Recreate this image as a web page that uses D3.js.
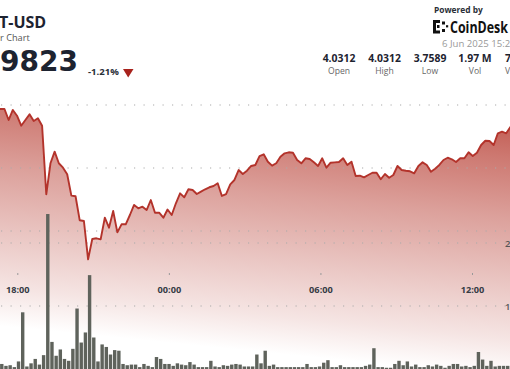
<!DOCTYPE html>
<html lang="en">
<head>
<meta charset="UTF-8">
<title>T-USD 24 Hour Chart</title>
<script src="https://cdn.jsdelivr.net/npm/d3@7"></script>
<style>
  html, body { margin: 0; padding: 0; background: #fff; overflow: hidden; }
  svg { display: block; font-family: "Open Sans", "Noto Sans", sans-serif; }
</style>
</head>
<body>
<script>
// --- data --------------------------------------------------------------
// one point every 24h/145 (~9.9 min), first point at 17:09:40
const startTime = new Date(2025, 5, 5, 17, 9, 40);
const stepMs = 86400000 / 145;

const prices = [
  3.9952, 3.9937, 3.9937, 3.9762, 3.9921, 3.9830, 3.9671, 3.9762, 3.9852, 3.9746,
  3.9789, 3.9671, 3.8583, 3.9075, 3.9259, 3.9075, 3.9005, 3.8900, 3.8562, 3.8551,
  3.8170, 3.8159, 3.7550, 3.7873, 3.7884, 3.7868, 3.8211, 3.8052, 3.8317, 3.7979,
  3.8106, 3.8106, 3.8254, 3.8413, 3.8360, 3.8386, 3.8333, 3.8492, 3.8290, 3.8290,
  3.8211, 3.8341, 3.8254, 3.8440, 3.8598, 3.8535, 3.8662, 3.8651, 3.8587, 3.8624,
  3.8662, 3.8694, 3.8714, 3.8757, 3.8556, 3.8587, 3.8741, 3.8810, 3.8968, 3.8905,
  3.8957, 3.9032, 3.9048, 3.9190, 3.9217, 3.9100, 3.9037, 3.9075, 3.9179, 3.9233,
  3.9249, 3.9243, 3.9127, 3.9075, 3.9154, 3.9143, 3.9090, 3.9032, 3.9154, 3.9005,
  3.9084, 3.9090, 3.9095, 3.9154, 3.9048, 3.9100, 3.8873, 3.8878, 3.8852, 3.8889,
  3.8925, 3.8925, 3.8821, 3.8905, 3.8846, 3.8889, 3.9032, 3.8968, 3.8957, 3.8948,
  3.8916, 3.9032, 3.9090, 3.9048, 3.8941, 3.8989, 3.9048, 3.9127, 3.9163, 3.9138,
  3.9095, 3.9154, 3.9154, 3.9249, 3.9190, 3.9243, 3.9365, 3.9433, 3.9429, 3.9365,
  3.9551, 3.9576, 3.9551, 3.9651, 3.9746
];

// volume per point in thousands, starts one point after the prices
const volumes = [
  8, 5, 6, 3, 12, 90, 4, 9, 16, 7,
  22, 246, 43, 21, 31, 16, 13, 32, 96, 42,
  58, 149, 50, 12, 39, 35, 23, 30, 29, 8,
  6, 7, 7, 3, 8, 5, 3, 19, 16, 8,
  8, 5, 9, 7, 6, 11, 7, 3, 3, 3,
  13, 4, 3, 6, 5, 7, 8, 7, 4, 4,
  4, 23, 9, 29, 5, 7, 3, 3, 3, 3,
  3, 3, 3, 8, 3, 3, 4, 10, 14, 3,
  3, 6, 3, 3, 3, 3, 3, 5, 7, 33,
  3, 3, 2, 2, 8, 13, 6, 12, 4, 7,
  3, 3, 6, 4, 7, 5, 2, 5, 8, 8,
  4, 5, 3, 5, 27, 15, 5, 13, 4, 5,
  5, 5
];

const timeTicks = [
  new Date(2025, 5, 5, 18), new Date(2025, 5, 6, 0),
  new Date(2025, 5, 6, 6), new Date(2025, 5, 6, 12)
];
const priceGrid = [4.0, 3.9, 3.8];
const volumeTicks = [100, 200];

const statValues = ["4.0312", "4.0312", "3.7589", "1.97 M", "7"];
const statLabels = ["Open", "High", "Low", "Vol", "V"];

// --- chart ---------------------------------------------------------------
const width = 510, height = 369;

const svg = d3.select("body").append("svg")
  .attr("width", width)
  .attr("height", height);

const x = d3.scaleTime()
  .domain([timeTicks[0], timeTicks[3]])
  .range([17.3, 472]);

const yPrice = d3.scaleLinear().domain([3.8, 4.0]).range([231, 105]);
const yVol = d3.scaleLinear().domain([0, 200]).range([369, 243]);

const priceData = prices.map((p, i) => ({ t: new Date(+startTime + i * stepMs), p }));
const volData = volumes.map((v, i) => ({ t: new Date(+startTime + (i + 1) * stepMs), v }));

// gradient under the line
const grad = svg.append("defs").append("linearGradient")
  .attr("id", "fade")
  .attr("gradientUnits", "userSpaceOnUse")
  .attr("x1", 265).attr("y1", 100)
  .attr("x2", 240).attr("y2", 350);
[[0, 0.92], [0.13, 0.77], [0.37, 0.54], [0.65, 0.31], [0.85, 0.15], [1, 0]]
  .forEach(([o, a]) => grad.append("stop")
    .attr("offset", o)
    .attr("stop-color", "rgb(190,80,70)")
    .attr("stop-opacity", a));

const area = d3.area()
  .x(d => x(d.t))
  .y0(height)
  .y1(d => yPrice(d.p));

svg.append("path")
  .datum(priceData)
  .attr("d", area)
  .attr("fill", "url(#fade)");

// dotted grid lines
const gridY = priceGrid.map(yPrice).concat(volumeTicks.map(yVol));
svg.append("g").selectAll("line")
  .data(gridY)
  .join("line")
  .attr("x1", 1).attr("x2", width)
  .attr("y1", d => d).attr("y2", d => d)
  .attr("stroke", "#aaa")
  .attr("stroke-width", 1.1)
  .attr("stroke-dasharray", "1.2,8.3");

// volume bars
svg.append("g").selectAll("rect")
  .data(volData)
  .join("rect")
  .attr("x", d => x(d.t) - 0.2)
  .attr("width", 3.4)
  .attr("y", d => yVol(d.v))
  .attr("height", d => yVol(0) - yVol(d.v))
  .attr("fill", "#5f635c");

// price line
const line = d3.line()
  .x(d => x(d.t))
  .y(d => yPrice(d.p));

svg.append("path")
  .datum(priceData)
  .attr("d", line)
  .attr("fill", "none")
  .attr("stroke", "#b3332b")
  .attr("stroke-width", 1.9)
  .attr("stroke-linejoin", "round");

// time axis
const xAxis = svg.append("g")
  .attr("transform", "translate(0,273)")
  .call(d3.axisBottom(x)
    .tickValues(timeTicks)
    .tickSize(2)
    .tickPadding(11)
    .tickFormat(d3.timeFormat("%H:%M")));
xAxis.select(".domain").remove();
xAxis.selectAll("line").attr("stroke", "#999");
xAxis.selectAll("text")
  .attr("fill", "#363b45")
  .style("font-family", "'Open Sans', sans-serif")
  .style("font-size", "9.2px")
  .style("font-weight", "700");

// volume axis (right edge, clipped like the original)
const vAxis = svg.append("g")
  .attr("transform", "translate(504,0)")
  .call(d3.axisRight(yVol)
    .tickValues(volumeTicks)
    .tickSize(0)
    .tickPadding(1)
    .tickFormat(d => d + "K"));
vAxis.select(".domain").remove();
vAxis.selectAll("text")
  .attr("fill", "#555")
  .style("font-family", "'Open Sans', sans-serif")
  .style("font-size", "9.5px")
  .style("font-weight", "600");

// --- header ---------------------------------------------------------------
svg.append("text")
  .attr("x", -1).attr("y", 28)
  .attr("fill", "#1d2330")
  .style("font-size", "16px").style("font-weight", "700")
  .text("T-USD");

svg.append("text")
  .attr("x", 0).attr("y", 41)
  .attr("fill", "#555")
  .style("font-size", "9.2px")
  .text("r Chart");

svg.append("text")
  .attr("x", 0).attr("y", 70.5)
  .attr("fill", "#1d2330")
  .style("font-family", "'DejaVu Sans', sans-serif")
  .style("font-size", "28px").style("font-weight", "700")
  .text("9823");

svg.append("text")
  .attr("x", 88).attr("y", 75)
  .attr("fill", "#2a2f38")
  .style("font-size", "9.6px").style("font-weight", "700")
  .text("-1.21%");

svg.append("path")
  .attr("d", d3.line()([[123, 69], [133.5, 69], [128.2, 77.5]]) + "Z")
  .attr("fill", "#a8221c");

svg.append("text")
  .attr("x", 434).attr("y", 12.8)
  .attr("fill", "#2a2f38")
  .style("font-size", "8.4px").style("font-weight", "700")
  .text("Powered by");

// CoinDesk mark
const logo = svg.append("g").attr("fill", "#111");
[[433, 20, 3, 13.5], [436, 20, 4, 3], [436, 30.5, 4, 3],
 [437, 25, 2.5, 3], [442, 21.5, 3, 3], [442, 29, 3, 3], [446, 25.2, 2.2, 2.2]]
  .forEach(([rx, ry, rw, rh]) => logo.append("rect")
    .attr("x", rx).attr("y", ry).attr("width", rw).attr("height", rh));

svg.append("text")
  .attr("x", 450).attr("y", 32.8)
  .attr("fill", "#111")
  .attr("textLength", 58).attr("lengthAdjust", "spacingAndGlyphs")
  .style("font-size", "16.5px").style("font-weight", "700")
  .text("CoinDesk");

svg.append("text")
  .attr("x", 442).attr("y", 47)
  .attr("fill", "#999")
  .style("font-size", "9.6px")
  .text("6 Jun 2025 15:24");

const statX = [339, 384.5, 430, 475, 505];
const stats = svg.append("g");
statValues.forEach((v, i) => {
  stats.append("text")
    .attr("x", statX[i]).attr("y", 62)
    .attr("text-anchor", i < 4 ? "middle" : "start")
    .attr("fill", "#1d2330")
    .style("font-size", "10.4px").style("font-weight", "700")
    .text(v);
  stats.append("text")
    .attr("x", statX[i]).attr("y", 74)
    .attr("text-anchor", i < 4 ? "middle" : "start")
    .attr("fill", "#666")
    .style("font-size", "8.6px")
    .text(statLabels[i]);
});
</script>
</body>
</html>
